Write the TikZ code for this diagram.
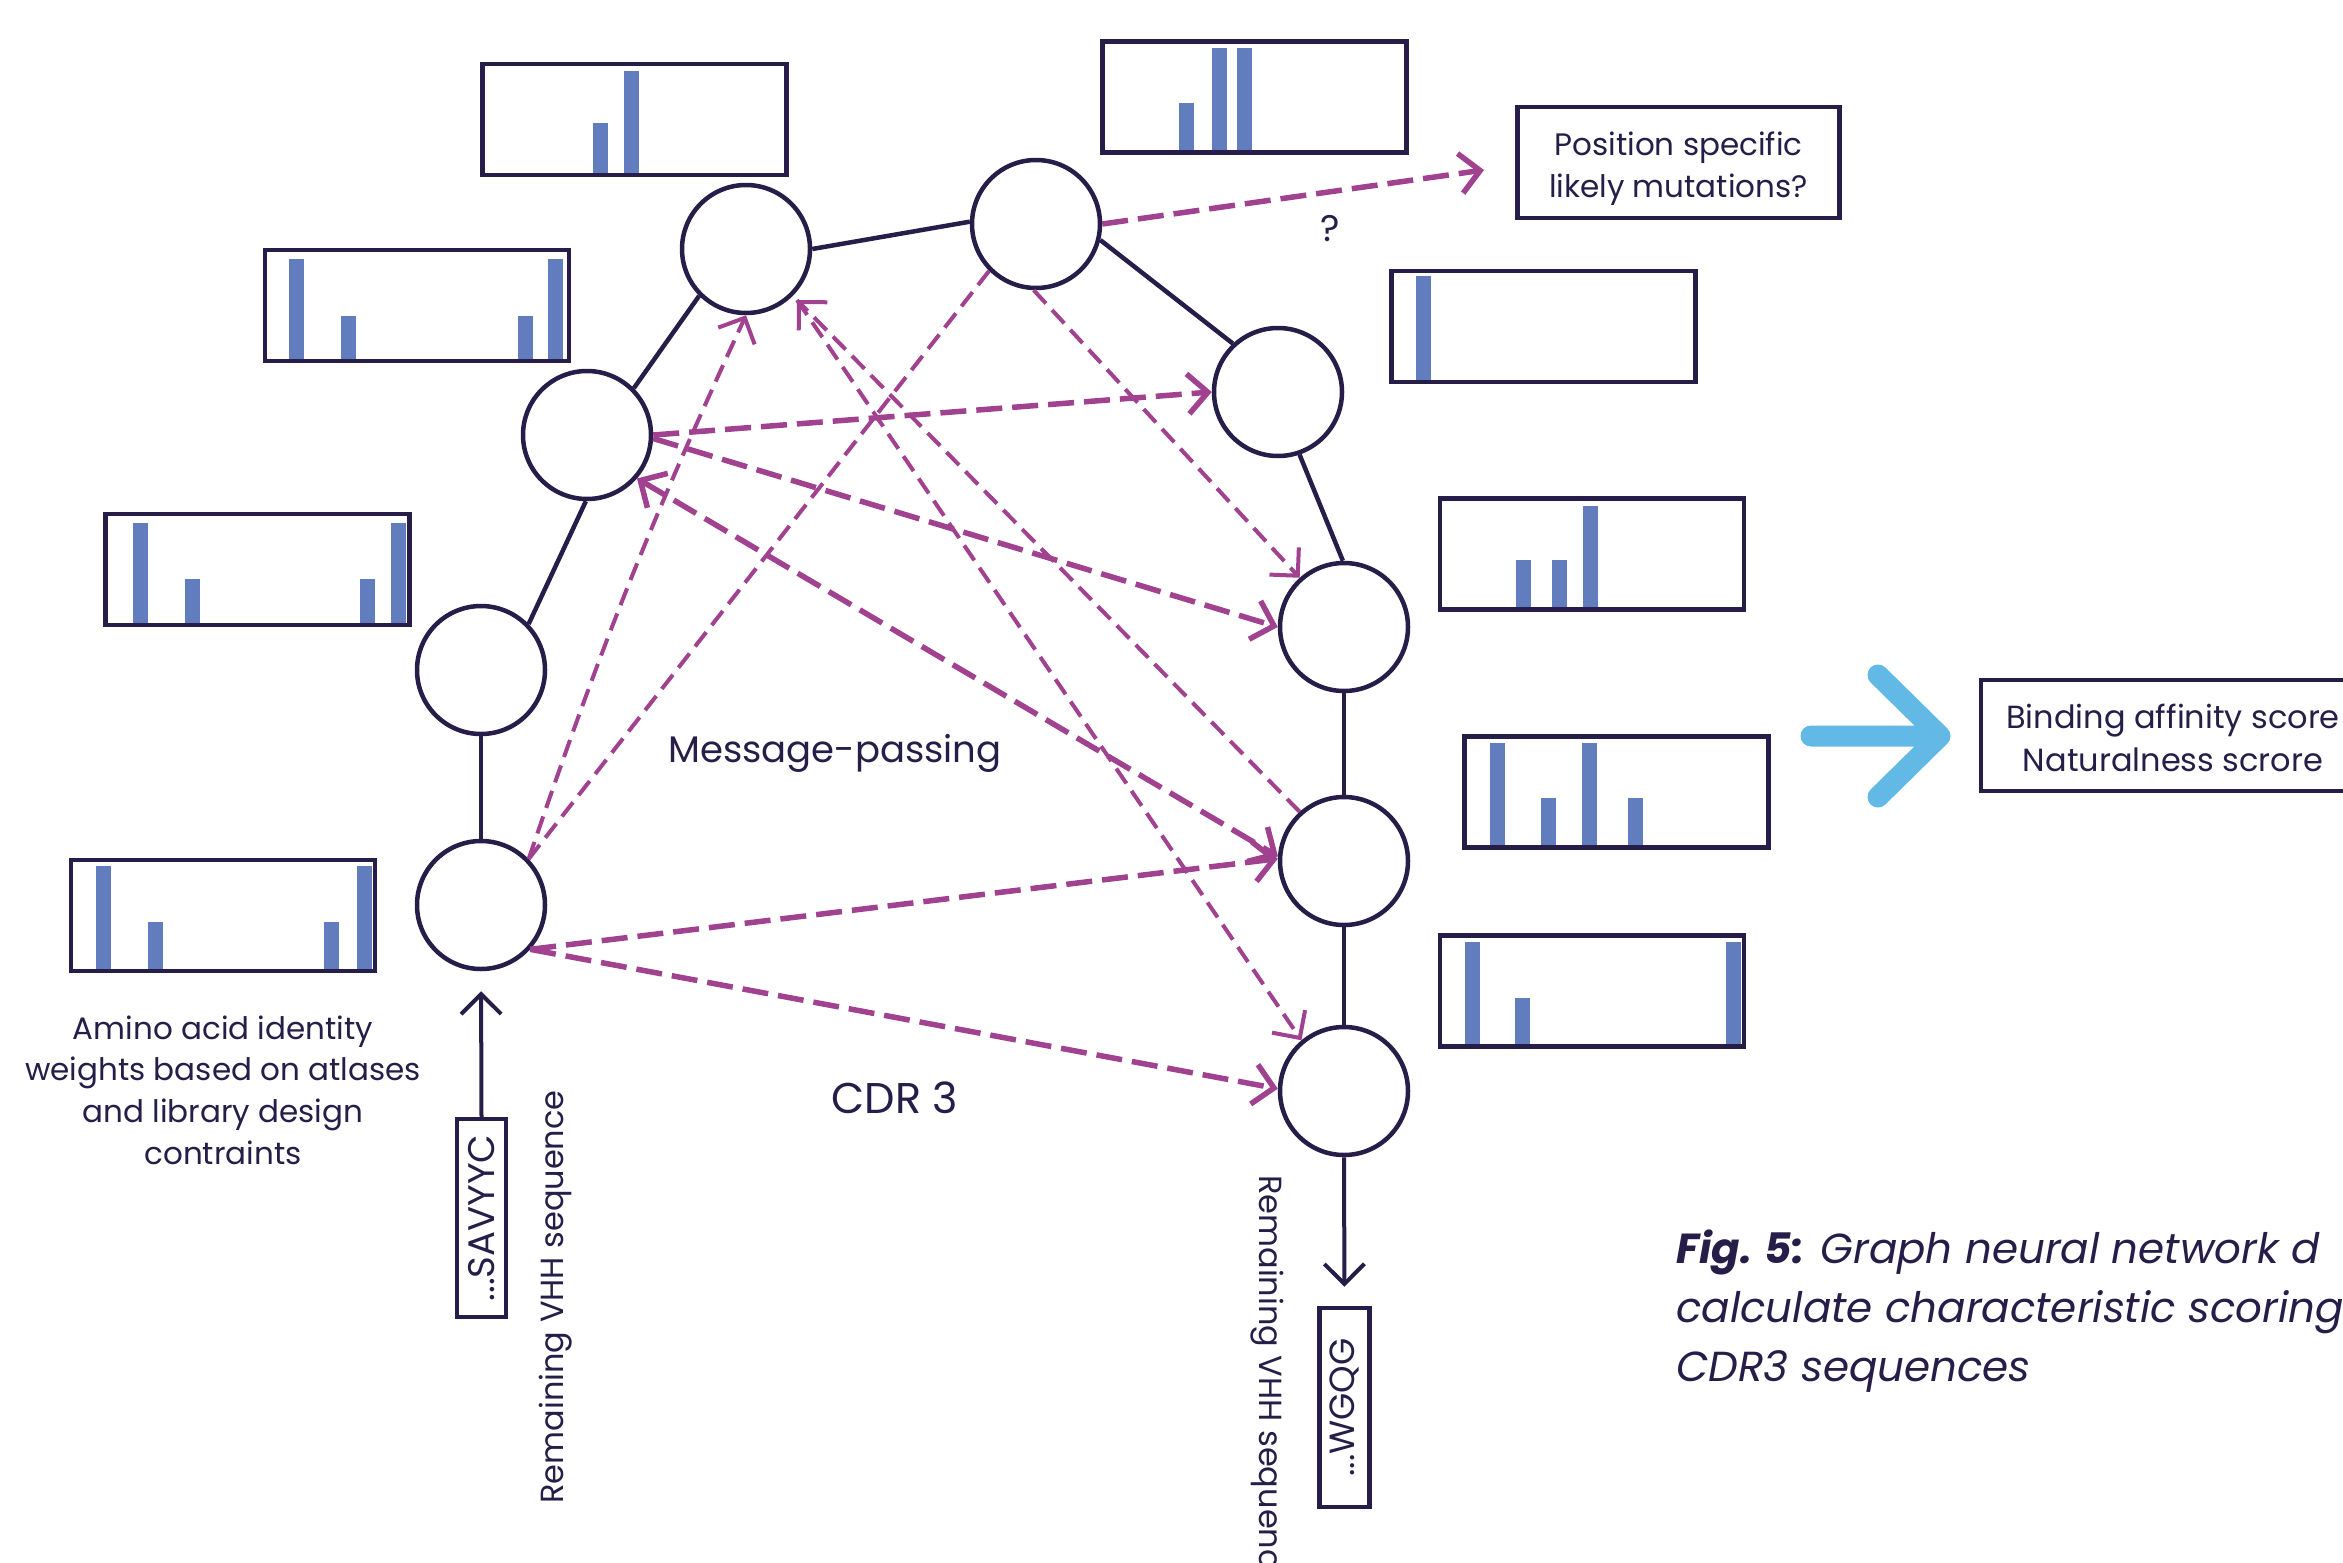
\documentclass[tikz,border=0pt]{standalone}
\usepackage{fontspec}
\setmainfont{Poppins}
\usetikzlibrary{arrows.meta,calc}
\definecolor{navy}{HTML}{261E48}
\definecolor{barblue}{HTML}{617DBD}
\definecolor{mag}{HTML}{A0428F}
\definecolor{skyb}{HTML}{63B9E5}
\newcommand{\histbar}[3]{\fill[bar] (#1,-#3) rectangle (#1+14.5,-#2);}
\newcommand{\fs}[2]{\fontsize{#1}{#2}\selectfont}
\tikzset{
  vtip/.tip={Straight Barb[length=20pt,width=40pt]},
  gnode/.style={circle, draw=navy, line width=4.5pt, minimum size=128pt, inner sep=0pt, fill=white},
  edge/.style={draw=navy, line width=4.5pt},
  histbox/.style={draw=navy, line width=4.5pt, minimum width=304pt, minimum height=111pt, inner sep=0pt},
  bar/.style={fill=barblue},
  msgthick/.style={draw=mag, line width=5.5pt, dash pattern=on 26pt off 10pt},
  msgthin/.style={draw=mag, line width=4pt, dash pattern=on 18pt off 9pt},
  txt/.style={text=navy, inner sep=0pt},
  plainbox/.style={draw=navy, line width=4.5pt, inner sep=0pt},
  seqbox/.style={draw=navy, line width=4.5pt, text=navy, inner sep=0pt},
  arrowline/.style={draw=navy, line width=4pt},
}
\begin{document}
\begin{tikzpicture}[x=1pt,y=1pt]
\useasboundingbox (0,0) rectangle (2343,-1563);
\clip (0,0) rectangle (2343,-1563);
\fill[white] (0,0) rectangle (2343,-1563);

% histogram bars
\histbar{96}{866}{971}\histbar{148}{922}{971}\histbar{324}{922}{971}\histbar{357}{866}{971}
\histbar{133}{523}{625}\histbar{185}{579}{625}\histbar{360}{579}{625}\histbar{391}{523}{625}
\histbar{289}{259}{361}\histbar{341}{316}{361}\histbar{518}{316}{361}\histbar{548}{259}{361}
\histbar{593}{123}{175}\histbar{624}{71}{175}
\histbar{1179}{103}{152}\histbar{1212}{48}{152}\histbar{1237}{48}{152}
\histbar{1416}{276}{382}
\histbar{1516}{560}{609}\histbar{1552}{560}{609}\histbar{1583}{506}{609}
\histbar{1490}{743}{847}\histbar{1541}{798}{847}\histbar{1582}{743}{847}\histbar{1628}{798}{847}
\histbar{1465}{942}{1046}\histbar{1515}{998}{1046}\histbar{1726}{942}{1046}

% histogram boxes
\node[histbox] (h1) at (223,-915.5) {};
\node[histbox] (h2) at (257.5,-569.5) {};
\node[histbox] (h3) at (417,-305.5) {};
\node[histbox] (h4) at (634.5,-119.5) {};
\node[histbox] (h5) at (1254.5,-97) {};
\node[histbox] (h6) at (1543.5,-326.5) {};
\node[histbox] (h7) at (1592,-554) {};
\node[histbox] (h8) at (1616.5,-792) {};
\node[histbox] (h9) at (1592,-991) {};

% graph nodes
\node[gnode] (n1) at (481,-905) {};
\node[gnode] (n2) at (481,-670) {};
\node[gnode] (n3) at (587,-435) {};
\node[gnode] (n4) at (746,-249) {};
\node[gnode] (n5) at (1036,-224) {};
\node[gnode] (n6) at (1278,-392) {};
\node[gnode] (n7) at (1344,-627) {};
\node[gnode] (n8) at (1344,-861) {};
\node[gnode] (n9) at (1344,-1091) {};

% backbone
\draw[edge] (n1.north) -- (n2.south);
\draw[edge] (n2.44) -- (n3.-91);
\draw[edge] (n3.45) -- (n4.-135);
\draw[edge] (n4.0) -- (n5.178);
\draw[edge] (n5.-14) -- (n6.133);
\draw[edge] (n6.-71) -- (n7.91);
\draw[edge] (n7.south) -- (n8.north);
\draw[edge] (n8.south) -- (n9.north);

% message passing
\coordinate (pq) at (1484,-170);
\coordinate (n4in) at (797,-300);
\draw[msgthin,-vtip] (n1.44) to[bend left=3] (n4.-90);
\draw[msgthin] (n5.-135) -- (n1.44);
\draw[msgthick,-vtip] (n3.0) -- (n6.180);
\draw[msgthick,-vtip] (n3.-3) -- (n7.180);
\draw[msgthick,vtip-vtip] (n3.-41) -- (n8.176);
\draw[msgthin,-vtip] (n8.132) -- (n4in);
\draw[msgthin,-vtip] (n4in) -- (n9.130);
\draw[msgthin,-vtip] (n5.-92) -- (n7.132);
\draw[msgthick,-vtip] (n1.-42) -- (n8.178);
\draw[msgthick,-vtip] (n1.-42) -- (n9.178);
\draw[msgthick,-vtip] (n5.0) -- (pq);
\node[txt, font=\fs{37}{40}] (qm) at (1330,-229) {?};

% output boxes
\node[plainbox, minimum width=322pt, minimum height=111pt] (pos) at (1678.5,-162.5) {};
\node[txt, anchor=base, font=\fs{31}{36}] (pos1) at (1678.5,-155) {Position specific};
\node[txt, anchor=base, font=\fs{31}{36}] (pos2) at (1678.5,-197) {likely mutations?};
\node[plainbox, minimum width=384pt, minimum height=111pt] (bind) at (2173,-735.5) {};
\node[txt, anchor=base, font=\fs{32}{36}] (bind1) at (2173,-728) {Binding affinity score};
\node[txt, anchor=base, font=\fs{32}{36}] (bind2) at (2173,-771) {Naturalness scrore};

% blue arrow
\coordinate (bs) at (1811,-736);
\coordinate (bt) at (1940,-736);
\draw[skyb, line width=21pt, line cap=round, line join=round] (bs) -- (bt) (1878,-675) -- (bt) -- (1878,-797);

% labels
\node[txt, anchor=base, font=\fs{37}{40}] (mp) at (835,-762) {Message-passing};
\node[txt, anchor=base, font=\fs{43}{46}] (cdr) at (895,-1113) {CDR 3};
\node[txt, anchor=base, font=\fs{31}{36}] (am1) at (223,-1039) {Amino acid identity};
\node[txt, anchor=base, font=\fs{31}{36}] (am2) at (223,-1080) {weights based on atlases};
\node[txt, anchor=base, font=\fs{31}{36}] (am3) at (223,-1122) {and library design};
\node[txt, anchor=base, font=\fs{31}{36}] (am4) at (223,-1164) {contraints};

% sequence ends
\node[seqbox, rotate=90, minimum width=198pt, minimum height=49pt, font=\fs{37}{40}] (sav) at (481.5,-1218) {...SAVYYC};
\node[seqbox, rotate=90, minimum width=199pt, minimum height=50pt, font=\fs{35}{40}] (wg) at (1344.5,-1407.5) {...WGQG};
\draw[arrowline,-vtip,shorten >=20pt] (sav.east) -- (n1.south);
\draw[arrowline,-vtip,shorten >=19pt] (n9.south) -- (wg.east);
\node[txt, rotate=90, font=\fs{32}{36}] (rem1) at (556,-1297) {Remaining VHH sequence};
\node[txt, rotate=-90, anchor=west, font=\fs{32}{36}] (rem2) at (1267,-1175) {Remaining VHH sequence};

% caption
\node[txt, anchor=base west, font=\fs{42}{46}\itshape] (cap1) at (1676,-1263) {\textbf{Fig. 5:} Graph neural network d};
\node[txt, anchor=base west, font=\fs{42}{46}\itshape] (cap2) at (1676,-1322) {calculate characteristic scoring};
\node[txt, anchor=base west, font=\fs{42}{46}\itshape] (cap3) at (1676,-1381) {CDR3 sequences};
\end{tikzpicture}
\end{document}
